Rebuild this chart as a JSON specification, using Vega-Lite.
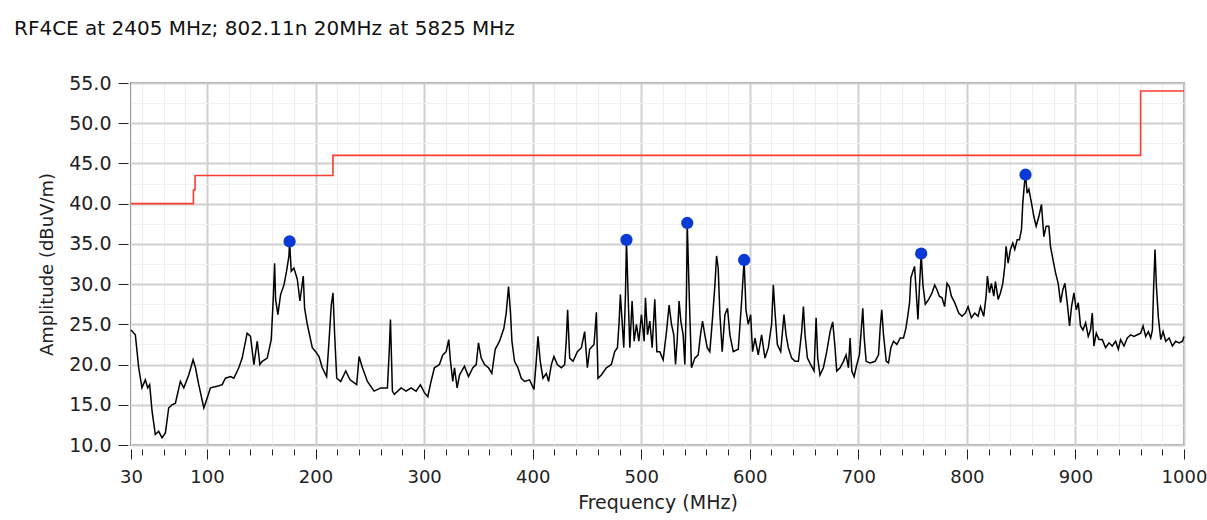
{
  "$schema": "https://vega.github.io/schema/vega-lite/v6.json",
  "width": 1053,
  "height": 362,
  "autosize": {"type": "none"},
  "padding": {"left": 131, "top": 83, "right": 23, "bottom": 75},
  "background": "white",
  "title": {"text": "RF4CE at 2405 MHz; 802.11n 20MHz at 5825 MHz", "anchor": "start", "frame": "group", "dx": -117, "offset": 35, "font": "DejaVu Sans", "fontSize": 20, "fontWeight": "normal", "color": "#111"},
  "config": {"view": {"stroke": "#9a9a9a", "strokeWidth": 2}, "font": "DejaVu Sans"},
  "datasets": {
    "trace": [
      {"f":30,"v":24.3},{"f":34.0,"v":23.7},{"f":37.1,"v":19.6},{"f":40.1,"v":17.1},{"f":43.2,"v":18.1},{"f":45.4,"v":17.1},{"f":47.2,"v":17.5},{"f":49.4,"v":14.2},{"f":52.4,"v":11.3},{"f":55.5,"v":11.7},{"f":58.6,"v":10.9},{"f":61.7,"v":11.5},{"f":64.7,"v":14.6},{"f":67.8,"v":15.0},{"f":70.9,"v":15.2},{"f":75.5,"v":17.9},{"f":78.6,"v":17.1},{"f":83.2,"v":18.7},{"f":87.2,"v":20.6},{"f":89.4,"v":19.6},{"f":92.4,"v":17.5},{"f":97.1,"v":14.6},{"f":100.1,"v":15.8},{"f":103.2,"v":17.1},{"f":109.4,"v":17.3},{"f":114.0,"v":17.5},{"f":117.0,"v":18.3},{"f":121.7,"v":18.5},{"f":124.7,"v":18.3},{"f":129.3,"v":19.6},{"f":132.4,"v":20.8},{"f":137.0,"v":23.9},{"f":140.1,"v":23.5},{"f":143.2,"v":20.0},{"f":146.3,"v":22.9},{"f":148.7,"v":20.0},{"f":150.9,"v":20.4},{"f":155.5,"v":20.8},{"f":159.2,"v":23.1},{"f":161.0,"v":28.1},{"f":162.3,"v":32.6},{"f":163.2,"v":28.1},{"f":165.3,"v":26.2},{"f":167.8,"v":28.7},{"f":170.9,"v":29.9},{"f":173.3,"v":31.6},{"f":175.5,"v":33.5},{"f":176.1,"v":35.3},{"f":177.6,"v":31.6},{"f":180.1,"v":32.0},{"f":183.2,"v":30.6},{"f":185.6,"v":27.9},{"f":188.7,"v":31.0},{"f":189.9,"v":27.0},{"f":192.4,"v":25.0},{"f":197.0,"v":22.1},{"f":200.1,"v":21.6},{"f":203.2,"v":21.0},{"f":206.2,"v":19.6},{"f":210.2,"v":18.5},{"f":212.4,"v":22.9},{"f":214.5,"v":27.4},{"f":216.1,"v":28.9},{"f":217.6,"v":23.7},{"f":219.5,"v":18.3},{"f":223.2,"v":17.9},{"f":227.8,"v":19.2},{"f":231.8,"v":18.1},{"f":237.9,"v":17.5},{"f":240.1,"v":21.0},{"f":243.2,"v":19.6},{"f":247.8,"v":17.9},{"f":253.9,"v":16.7},{"f":260.1,"v":17.1},{"f":266.2,"v":17.1},{"f":267.8,"v":21.4},{"f":269.0,"v":25.6},{"f":270.8,"v":16.7},
      {"f":272.6,"v":16.3},{"f":278.8,"v":17.1},{"f":283.4,"v":16.7},{"f":288.0,"v":17.1},{"f":292.6,"v":16.7},{"f":296.6,"v":17.5},{"f":300.3,"v":16.5},{"f":303.4,"v":16.0},{"f":306.4,"v":17.9},{"f":309.5,"v":19.6},{"f":314.1,"v":20.0},{"f":317.2,"v":21.2},{"f":320.3,"v":21.6},{"f":322.7,"v":23.1},{"f":324.3,"v":20.4},{"f":326.4,"v":17.9},{"f":328.0,"v":19.6},{"f":330.4,"v":17.1},{"f":332.6,"v":18.7},{"f":337.2,"v":19.8},{"f":340.9,"v":18.5},{"f":344.9,"v":19.6},{"f":348.0,"v":20.0},{"f":350.1,"v":22.7},{"f":352.6,"v":20.8},{"f":355.7,"v":20.0},{"f":359.3,"v":19.6},{"f":362.4,"v":18.9},{"f":365.5,"v":21.9},{"f":369.5,"v":22.9},{"f":373.5,"v":24.5},{"f":375.6,"v":26.4},{"f":377.8,"v":29.7},{"f":379.6,"v":26.4},{"f":380.9,"v":22.9},{"f":383.3,"v":20.4},{"f":386.4,"v":19.6},{"f":389.5,"v":18.3},{"f":392.6,"v":17.9},{"f":397.2,"v":18.1},{"f":401.2,"v":16.9},{"f":403.3,"v":20.4},{"f":404.9,"v":23.5},{"f":407.0,"v":20.4},{"f":409.5,"v":18.3},{"f":412.6,"v":18.9},{"f":414.7,"v":17.9},{"f":417.2,"v":20.0},{"f":419.6,"v":21.0},{"f":422.7,"v":20.0},{"f":426.4,"v":19.6},{"f":429.5,"v":20.0},{"f":431.0,"v":23.1},{"f":432.2,"v":26.8},{"f":434.1,"v":20.8},{"f":437.2,"v":20.4},{"f":441.2,"v":21.6},{"f":444.9,"v":22.1},{"f":447.9,"v":24.1},{"f":450.4,"v":19.6},{"f":452.5,"v":21.9},{"f":456.5,"v":22.5},{"f":458.7,"v":26.5},{"f":460.2,"v":18.3},{"f":463.3,"v":18.7},{"f":467.9,"v":19.6},{"f":472.5,"v":20.0},{"f":475.6,"v":21.6},{"f":478.1,"v":22.1},{"f":479.6,"v":25.2},{"f":480.8,"v":28.7},{"f":482.4,"v":25.4},{"f":483.9,"v":22.1},{"f":485.5,"v":28.7},{"f":486.4,"v":35.5},{"f":487.9,"v":28.7},{"f":489.5,"v":22.1},{"f":491.6,"v":27.9},{"f":493.5,"v":22.9},{"f":495.6,"v":25.0},{"f":497.8,"v":22.9},{"f":500.2,"v":26.2},{"f":502.7,"v":22.9},{"f":503.9,"v":28.3},{"f":505.8,"v":23.7},{"f":507.9,"v":25.4},{"f":510.1,"v":22.1},{"f":512.5,"v":28.1},{"f":514.4,"v":21.6},
      {"f":517.1,"v":21.6},{"f":520.2,"v":20.6},{"f":523.3,"v":24.1},{"f":525.7,"v":27.4},{"f":527.9,"v":25.0},{"f":530.0,"v":23.7},{"f":531.6,"v":20.0},{"f":533.1,"v":22.9},{"f":534.9,"v":27.9},{"f":536.5,"v":25.4},{"f":538.6,"v":23.7},{"f":540.2,"v":20.0},{"f":541.7,"v":28.7},{"f":542.4,"v":37.6},{"f":544.2,"v":28.7},{"f":546.3,"v":19.6},{"f":549.4,"v":20.8},{"f":552.5,"v":21.2},{"f":554.6,"v":23.7},{"f":556.5,"v":25.4},{"f":558.6,"v":23.7},{"f":560.8,"v":22.1},{"f":563.2,"v":21.6},{"f":565.7,"v":25.8},{"f":567.9,"v":29.9},{"f":569.4,"v":33.5},{"f":570.9,"v":32.0},{"f":572.5,"v":26.2},{"f":574.6,"v":21.6},{"f":577.1,"v":26.2},{"f":579.5,"v":27.0},{"f":581.7,"v":23.7},{"f":584.8,"v":21.6},{"f":589.4,"v":21.9},{"f":592.5,"v":27.9},{"f":594.8,"v":33.0},{"f":596.5,"v":26.8},{"f":598.6,"v":25.0},{"f":600.8,"v":26.2},{"f":602.6,"v":21.6},{"f":604.8,"v":23.3},{"f":607.8,"v":21.2},{"f":610.9,"v":23.7},{"f":614.0,"v":20.8},{"f":617.1,"v":22.1},{"f":620.1,"v":25.0},{"f":621.7,"v":29.9},{"f":623.2,"v":26.6},{"f":625.4,"v":22.5},{"f":628.5,"v":21.6},{"f":631.5,"v":26.2},{"f":633.4,"v":23.7},{"f":635.5,"v":22.1},{"f":638.6,"v":20.8},{"f":641.7,"v":20.4},{"f":644.8,"v":20.4},{"f":647.8,"v":24.1},{"f":649.4,"v":27.2},{"f":650.9,"v":23.7},{"f":653.1,"v":20.8},{"f":656.1,"v":20.0},{"f":659.2,"v":19.2},{"f":661.1,"v":25.8},{"f":662.6,"v":20.8},{"f":664.7,"v":18.7},{"f":667.8,"v":19.6},{"f":670.9,"v":21.6},{"f":674.0,"v":24.1},{"f":676.4,"v":25.3},{"f":678.3,"v":22.5},{"f":680.1,"v":19.2},{"f":683.2,"v":19.6},{"f":686.3,"v":20.4},{"f":688.7,"v":21.2},{"f":690.9,"v":19.6},{"f":692.4,"v":23.3},{"f":694.0,"v":19.2},{"f":696.1,"v":18.5},{"f":698.6,"v":20.0},{"f":701.0,"v":21.2},{"f":702.6,"v":24.1},{"f":704.1,"v":27.0},{"f":705.4,"v":23.3},{"f":707.2,"v":20.4},{"f":710.9,"v":20.2},{"f":715.5,"v":20.4},{"f":718.6,"v":21.2},{"f":720.1,"v":24.5},{"f":721.6,"v":26.8},{"f":723.2,"v":23.7},{"f":725.7,"v":20.4},{"f":727.8,"v":20.2},{"f":730.0,"v":22.1},{"f":732.4,"v":22.9},{"f":735.5,"v":22.5},{"f":738.6,"v":23.3},{"f":741.6,"v":23.3},{"f":743.8,"v":24.5},{"f":745.3,"v":25.8},{"f":747.2,"v":27.7},{"f":748.4,"v":30.8},{"f":750.3,"v":31.6},{"f":751.8,"v":32.2},{"f":753.3,"v":29.1},{"f":754.9,"v":25.6},{"f":756.4,"v":29.9},{"f":757.9,"v":33.7},{"f":759.5,"v":29.9},
      {"f":761.7,"v":27.5},{"f":764.8,"v":28.1},{"f":767.9,"v":28.9},{"f":770.3,"v":29.9},{"f":772.5,"v":29.3},{"f":774.6,"v":28.5},{"f":777.1,"v":28.3},{"f":779.5,"v":27.2},{"f":781.7,"v":30.1},{"f":783.8,"v":29.7},{"f":785.7,"v":28.5},{"f":788.8,"v":27.7},{"f":792.5,"v":26.4},{"f":795.5,"v":26.0},{"f":798.6,"v":26.4},{"f":801.1,"v":27.2},{"f":804.1,"v":25.8},{"f":807.2,"v":26.4},{"f":810.3,"v":26.0},{"f":812.5,"v":27.2},{"f":815.5,"v":26.0},{"f":817.7,"v":28.5},{"f":818.9,"v":31.0},{"f":820.8,"v":28.9},{"f":822.6,"v":30.1},{"f":824.8,"v":28.5},{"f":826.3,"v":30.3},{"f":828.8,"v":28.1},{"f":830.9,"v":28.9},{"f":833.1,"v":30.1},{"f":834.9,"v":32.2},{"f":836.1,"v":34.7},{"f":838.0,"v":32.6},{"f":840.1,"v":34.3},{"f":842.3,"v":35.1},{"f":844.1,"v":34.3},{"f":846.3,"v":35.5},{"f":848.4,"v":35.5},{"f":850.3,"v":36.8},{"f":851.5,"v":40.1},{"f":853.1,"v":42.6},{"f":854.0,"v":43.6},{"f":855.5,"v":41.3},{"f":857.1,"v":41.8},{"f":859.5,"v":40.1},{"f":861.7,"v":38.4},{"f":863.8,"v":37.2},{"f":866.3,"v":38.4},{"f":868.7,"v":39.9},{"f":870.9,"v":35.9},{"f":873.0,"v":37.2},{"f":875.5,"v":37.2},{"f":877.0,"v":34.7},{"f":879.2,"v":33.1},{"f":881.7,"v":31.4},{"f":884.1,"v":30.1},{"f":886.3,"v":27.7},{"f":888.4,"v":29.3},{"f":890.3,"v":30.1},{"f":892.4,"v":27.7},{"f":894.6,"v":24.8},{"f":896.4,"v":27.2},{"f":898.6,"v":28.9},{"f":900.8,"v":26.8},{"f":902.6,"v":27.7},{"f":904.7,"v":24.8},{"f":906.9,"v":24.3},{"f":909.4,"v":25.2},{"f":911.8,"v":23.5},{"f":913.9,"v":24.3},{"f":915.5,"v":26.4},{"f":917.0,"v":22.3},{"f":919.2,"v":23.9},{"f":921.6,"v":23.1},{"f":924.7,"v":23.1},{"f":927.8,"v":22.1},{"f":930.9,"v":22.7},{"f":933.9,"v":22.3},{"f":937.0,"v":22.9},{"f":939.5,"v":21.9},{"f":941.6,"v":23.1},{"f":944.7,"v":22.3},{"f":947.8,"v":23.3},{"f":950.9,"v":23.7},{"f":953.9,"v":23.5},{"f":957.0,"v":23.7},{"f":960.1,"v":23.9},{"f":962.3,"v":24.8},{"f":964.7,"v":23.5},{"f":967.2,"v":24.1},{"f":969.3,"v":23.3},{"f":970.9,"v":24.3},{"f":972.1,"v":29.9},{"f":973.3,"v":34.3},{"f":974.6,"v":29.7},{"f":976.4,"v":25.8},{"f":978.6,"v":23.1},{"f":980.7,"v":24.1},{"f":983.2,"v":22.9},{"f":986.3,"v":23.3},{"f":989.3,"v":22.3},{"f":992.4,"v":22.9},{"f":995.5,"v":22.7},{"f":998.6,"v":22.9},{"f":1000,"v":23.5}
    ],
    "limit": [
      {"f":30,"v":40},{"f":87.5,"v":41.7},{"f":89,"v":43.5},{"f":216,"v":46},{"f":960,"v":54},{"f":1000,"v":54}
    ],
    "peaks": [
      {"f":176.1,"v":35.3},{"f":486.4,"v":35.5},{"f":542.4,"v":37.6},{"f":594.8,"v":33.0},{"f":757.9,"v":33.8},{"f":854.0,"v":43.6}
    ]
  },
  "encoding": {
    "x": {"field": "f", "type": "quantitative",
      "scale": {"domain": [30, 1000], "nice": false, "zero": false},
      "axis": {
        "title": "Frequency (MHz)",
        "values": [30,40,60,80,100,120,140,160,180,200,220,240,260,280,300,320,340,360,380,400,420,440,460,480,500,520,540,560,580,600,620,640,660,680,700,720,740,760,780,800,820,840,860,880,900,920,940,960,980,1000],
        "labelExpr": "(datum.value == 30 || datum.value % 100 == 0) ? datum.label : ''",
        "format": "d",
        "labelOverlap": false,
        "labelBound": false,
        "labelFlush": false,
        "grid": true,
        "gridColor": {"condition": {"test": "datum.value % 100 == 0", "value": "#d0d0d0"}, "value": "#efefef"},
        "gridWidth": {"condition": {"test": "datum.value % 100 == 0", "value": 2}, "value": 1},
        "tickSize": {"condition": {"test": "datum.value == 30 || datum.value % 100 == 0", "value": 10}, "value": 6},
        "tickColor": "#222222",
        "domain": false,
        "offset": 4,
        "labelFont": "DejaVu Sans",
        "labelFontSize": 18,
        "labelColor": "#222222",
        "labelPadding": 9,
        "titleFont": "DejaVu Sans",
        "titleFontSize": 19,
        "titleFontWeight": "normal",
        "titleColor": "#222222",
        "titlePadding": 7
      }
    },
    "y": {"field": "v", "type": "quantitative",
      "scale": {"domain": [10, 55], "nice": false, "zero": false},
      "axis": {
        "title": "Amplitude (dBuV/m)",
        "values": [10,12.5,15,17.5,20,22.5,25,27.5,30,32.5,35,37.5,40,42.5,45,47.5,50,52.5,55],
        "labelExpr": "datum.value % 5 == 0 ? format(datum.value, '.1f') : ''",
        "labelOverlap": false,
        "labelBound": false,
        "labelFlush": false,
        "grid": true,
        "gridColor": {"condition": {"test": "datum.value % 5 == 0", "value": "#d0d0d0"}, "value": "#f2f2f2"},
        "gridWidth": {"condition": {"test": "datum.value % 5 == 0", "value": 2}, "value": 1},
        "tickOpacity": {"condition": {"test": "datum.value % 5 == 0", "value": 1}, "value": 0},
        "tickSize": 10,
        "tickColor": "#222222",
        "domain": false,
        "offset": 3,
        "labelFont": "DejaVu Sans",
        "labelFontSize": 19,
        "labelColor": "#222222",
        "labelPadding": 7,
        "titleFont": "DejaVu Sans",
        "titleFontSize": 18,
        "titleFontWeight": "normal",
        "titleColor": "#222222",
        "titlePadding": 12
      }
    }
  },
  "layer": [
    {
      "data": {"name": "trace"},
      "mark": {"type": "line", "color": "#000000", "strokeWidth": 1.5}
    },
    {
      "data": {"name": "limit"},
      "mark": {"type": "line", "color": "#ff3b2f", "strokeWidth": 1.6, "interpolate": "step-after"}
    },
    {
      "data": {"name": "peaks"},
      "mark": {"type": "point", "filled": true, "color": "#0a3ad6", "size": 150, "opacity": 1}
    }
  ]
}
